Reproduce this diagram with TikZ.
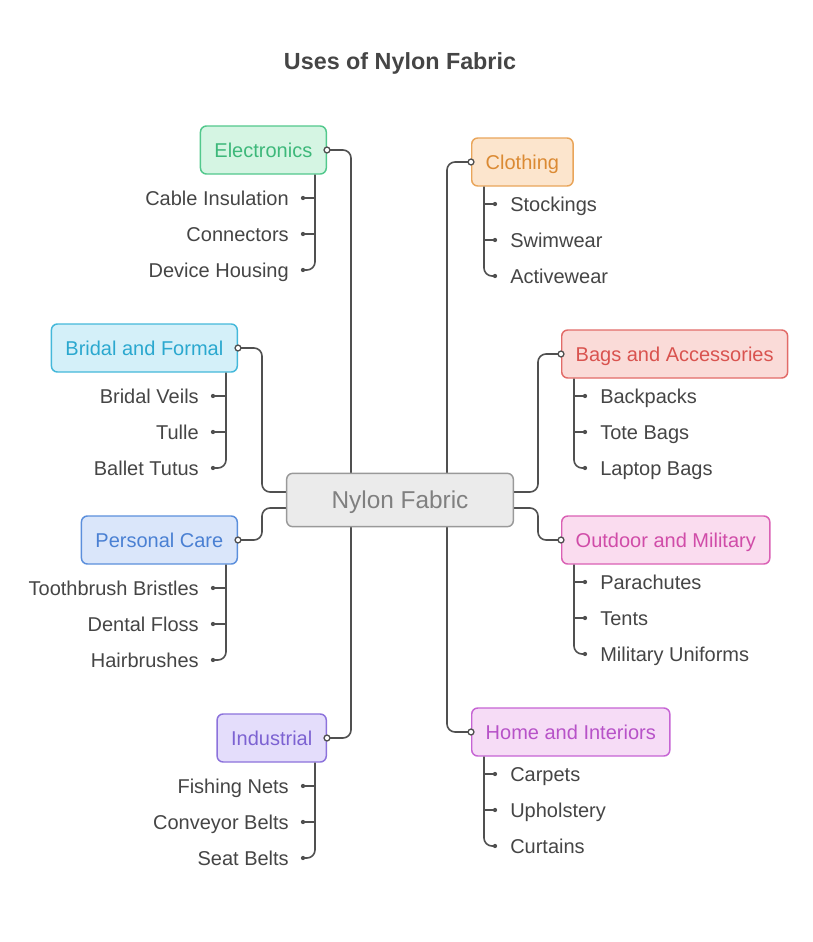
\documentclass[tikz,border=0pt]{standalone}
\usepackage{fontspec}
\setmainfont{Liberation Sans}
\usetikzlibrary{calc, backgrounds}

\definecolor{txt}{HTML}{454545}
\definecolor{lnk}{HTML}{505050}
\definecolor{grnF}{HTML}{D5F5E3}\definecolor{grnD}{HTML}{52C88C}\definecolor{grnT}{HTML}{3DB87A}
\definecolor{orgF}{HTML}{FCE5CD}\definecolor{orgD}{HTML}{E9A55A}\definecolor{orgT}{HTML}{DB8A33}
\definecolor{cyaF}{HTML}{D4F0F9}\definecolor{cyaD}{HTML}{44B8DA}\definecolor{cyaT}{HTML}{2AA8CF}
\definecolor{redF}{HTML}{FADBD8}\definecolor{redD}{HTML}{E26B68}\definecolor{redT}{HTML}{D9534F}
\definecolor{bluF}{HTML}{DAE6FA}\definecolor{bluD}{HTML}{5B8FDC}\definecolor{bluT}{HTML}{4A80D3}
\definecolor{pnkF}{HTML}{FADCEF}\definecolor{pnkD}{HTML}{DA60B4}\definecolor{pnkT}{HTML}{D04CA8}
\definecolor{purF}{HTML}{E4DDFB}\definecolor{purD}{HTML}{8C72DB}\definecolor{purT}{HTML}{7C62D2}
\definecolor{magF}{HTML}{F6DCF6}\definecolor{magD}{HTML}{C664D4}\definecolor{magT}{HTML}{B752C8}

\begin{document}
\begin{tikzpicture}[x=0.75pt, y=-0.75pt,
  cat/.style n args={3}{draw=#2, fill=#1, text=#3, line width=1.1pt, rounded corners=4.5pt,
    minimum height=36pt, inner xsep=10.5pt, text height=12pt, text depth=1.5pt,
    font=\fontsize{15}{18}\selectfont},
  leaf/.style={text=txt, inner sep=0pt, text height=13pt, text depth=2pt, font=\fontsize{15}{18}\selectfont},
  link/.style={draw=lnk, line width=1.2pt, rounded corners=6pt},
  tip/.style={draw=lnk, fill=white, line width=1pt}]
\useasboundingbox (0,0) rectangle (813,942);

% title and hub
\node [text=txt, font=\bfseries\fontsize{17.5}{21}\selectfont] (title) at (400,63) {Uses of Nylon Fabric};
\node [cat={black!8}{black!40}{black!50}, minimum width=170pt, minimum height=40pt,
  text height=15pt, text depth=2pt, font=\fontsize{18.3}{22}\selectfont] (hub) at (400,500) {Nylon Fabric};

% categories
\node [cat={grnF}{grnD}{grnT}, anchor=east] (elec)    at (327,150) {Electronics};
\node [cat={orgF}{orgD}{orgT}, anchor=west] (cloth)   at (471,162) {Clothing};
\node [cat={cyaF}{cyaD}{cyaT}, anchor=east] (bridal)  at (238,348) {Bridal and Formal};
\node [cat={redF}{redD}{redT}, anchor=west] (bags)    at (561,354) {Bags and Accessories};
\node [cat={bluF}{bluD}{bluT}, anchor=east] (care)    at (238,540) {Personal Care};
\node [cat={pnkF}{pnkD}{pnkT}, anchor=west] (outdoor) at (561,540) {Outdoor and Military};
\node [cat={purF}{purD}{purT}, anchor=east] (ind)     at (327,738) {Industrial};
\node [cat={magF}{magD}{magT}, anchor=west] (home)    at (471,732) {Home and Interiors};

% leaves, left side
\foreach \t [count=\i] in {Cable Insulation, Connectors, Device Housing}
  \node [leaf, anchor=east] (elec\i) at (289,162+36*\i) {\t};
\foreach \t [count=\i] in {Bridal Veils, Tulle, Ballet Tutus}
  \node [leaf, anchor=east] (bridal\i) at (199,360+36*\i) {\t};
\foreach \t [count=\i] in {Toothbrush Bristles, Dental Floss, Hairbrushes}
  \node [leaf, anchor=east] (care\i) at (199,552+36*\i) {\t};
\foreach \t [count=\i] in {Fishing Nets, Conveyor Belts, Seat Belts}
  \node [leaf, anchor=east] (ind\i) at (289,750+36*\i) {\t};

% leaves, right side
\foreach \t [count=\i] in {Stockings, Swimwear, Activewear}
  \node [leaf, anchor=west] (cloth\i) at (510,168+36*\i) {\t};
\foreach \t [count=\i] in {Backpacks, Tote Bags, Laptop Bags}
  \node [leaf, anchor=west] (bags\i) at (600,360+36*\i) {\t};
\foreach \t [count=\i] in {Parachutes, Tents, Military Uniforms}
  \node [leaf, anchor=west] (outdoor\i) at (600,546+36*\i) {\t};
\foreach \t [count=\i] in {Carpets, Upholstery, Curtains}
  \node [leaf, anchor=west] (home\i) at (510,738+36*\i) {\t};

% leaf branches
\foreach \g in {elec, bridal, care, ind} {
  \coordinate (\g l) at ($(\g.south east)+(-12,0)$);
  \foreach \i in {1,2,3} {
    \coordinate (\g d\i) at ($(\g\i.east)+(14,0)$);
    \fill [lnk] (\g d\i) circle (1.6pt);
  }
  \draw [link] (\g l) |- (\g d3);
  \draw [link] (\g l |- \g d1) -- (\g d1);
  \draw [link] (\g l |- \g d2) -- (\g d2);
}
\foreach \g in {cloth, bags, outdoor, home} {
  \coordinate (\g l) at ($(\g.south west)+(13,0)$);
  \foreach \i in {1,2,3} {
    \coordinate (\g d\i) at ($(\g\i.west)+(-15,0)$);
    \fill [lnk] (\g d\i) circle (1.6pt);
  }
  \draw [link] (\g l) |- (\g d3);
  \draw [link] (\g l |- \g d1) -- (\g d1);
  \draw [link] (\g l |- \g d2) -- (\g d2);
}

% trunks behind the hub
\begin{scope}[on background layer]
\draw [link] (elec.east) -- ++(24,0) |- (ind.east);
\draw [link] (cloth.west) -- ++(-24,0) |- (home.west);
\draw [link] (bridal.east) -- ++(24,0) |- ($(hub.west)+(0,-8)$);
\draw [link] (care.east) -- ++(24,0) |- ($(hub.west)+(0,8)$);
\draw [link] (bags.west) -- ++(-23,0) |- ($(hub.east)+(0,-8)$);
\draw [link] (outdoor.west) -- ++(-23,0) |- ($(hub.east)+(0,8)$);
\end{scope}

% open tips
\foreach \n in {elec, bridal, care, ind}
  \draw [tip] (\n.east) circle (2.2pt);
\foreach \n in {cloth, bags, outdoor, home}
  \draw [tip] (\n.west) circle (2.2pt);
\end{tikzpicture}
\end{document}
